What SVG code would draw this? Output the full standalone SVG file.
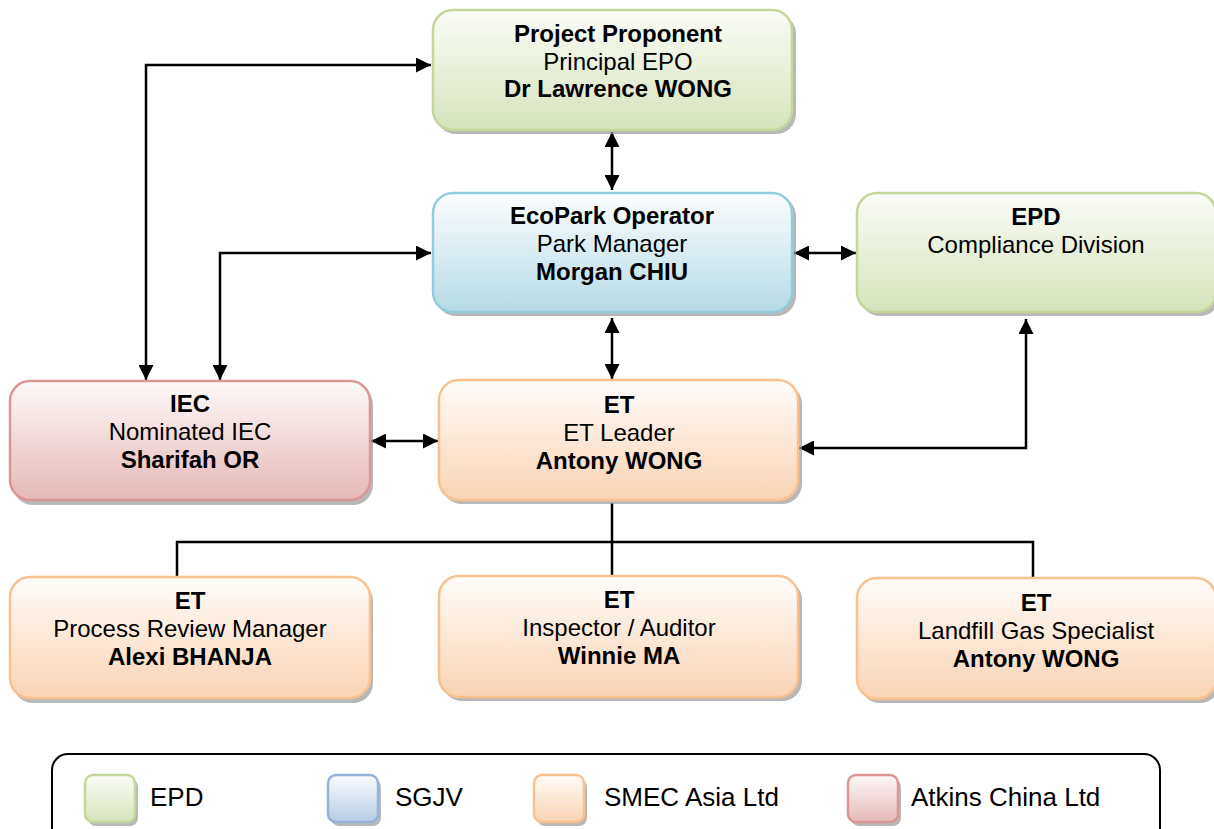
<svg xmlns="http://www.w3.org/2000/svg" width="1214" height="829" viewBox="0 0 1214 829">
<defs>
<linearGradient id="gGreen" x1="0" y1="0" x2="0" y2="1"><stop offset="0" stop-color="#fbfcf8"/><stop offset="1" stop-color="#d6e3bb"/></linearGradient>
<linearGradient id="gCyan" x1="0" y1="0" x2="0" y2="1"><stop offset="0" stop-color="#fcfdfe"/><stop offset="1" stop-color="#b5dbe6"/></linearGradient>
<linearGradient id="gOrange" x1="0" y1="0" x2="0" y2="1"><stop offset="0" stop-color="#fffcfa"/><stop offset="1" stop-color="#fad3b3"/></linearGradient>
<linearGradient id="gRed" x1="0" y1="0" x2="0" y2="1"><stop offset="0" stop-color="#fdf9f9"/><stop offset="1" stop-color="#e5b8b7"/></linearGradient>
<linearGradient id="gBlue" x1="0" y1="0" x2="0" y2="1"><stop offset="0" stop-color="#fafcfe"/><stop offset="1" stop-color="#b8cce4"/></linearGradient>
<marker id="arr" viewBox="0 0 10 10" refX="10" refY="5" markerWidth="6" markerHeight="6" markerUnits="strokeWidth" orient="auto-start-reverse"><path d="M0,0 L10,5 L0,10 z" fill="#000"/></marker>
</defs>
<style>
.t{font-family:"Liberation Sans",Arial,sans-serif;font-size:24px;fill:#000;text-anchor:middle}
.b{font-weight:bold}
.lg{font-family:"Liberation Sans",Arial,sans-serif;font-size:26px;fill:#000}
.sh{fill:#9a9a9a;opacity:0.7}
.green{fill:url(#gGreen);stroke:#c3d69b;stroke-width:2.5}
.cyan{fill:url(#gCyan);stroke:#93cddd;stroke-width:2.5}
.orange{fill:url(#gOrange);stroke:#fac08f;stroke-width:2.5}
.red{fill:url(#gRed);stroke:#d99694;stroke-width:2.5}
.blue{fill:url(#gBlue);stroke:#95b3d7;stroke-width:2.5}
.c{fill:none;stroke:#000;stroke-width:2.5}
</style>
<rect width="1214" height="829" fill="#fff"/>

<g id="connectors">
<line class="c" x1="612" y1="132" x2="612" y2="190" marker-start="url(#arr)" marker-end="url(#arr)"/>
<polyline class="c" points="146,380 146,65 431,65" marker-start="url(#arr)" marker-end="url(#arr)"/>
<polyline class="c" points="220,380 220,253 431,253" marker-start="url(#arr)" marker-end="url(#arr)"/>
<line class="c" x1="794" y1="253" x2="856" y2="253" marker-start="url(#arr)" marker-end="url(#arr)"/>
<line class="c" x1="612" y1="318" x2="612" y2="379" marker-start="url(#arr)" marker-end="url(#arr)"/>
<line class="c" x1="371" y1="441" x2="438" y2="441" marker-start="url(#arr)" marker-end="url(#arr)"/>
<polyline class="c" points="799,448 1026,448 1026,319" marker-start="url(#arr)" marker-end="url(#arr)"/>
<polyline class="c" points="612,503 612,577"/>
<polyline class="c" points="177,577 177,542 1033,542 1033,578"/>
</g>

<g id="n-proponent">
<rect class="sh" x="436" y="14" width="360" height="120" rx="20"/>
<rect class="green" x="433" y="10" width="359" height="120" rx="20"/>
<text class="t b" x="618" y="42">Project Proponent</text>
<text class="t" x="618" y="70">Principal EPO</text>
<text class="t b" x="618" y="97">Dr Lawrence WONG</text>
</g>

<g id="n-ecopark">
<rect class="sh" x="436" y="196" width="360" height="120" rx="20"/>
<rect class="cyan" x="433" y="193" width="359" height="119" rx="20"/>
<text class="t b" x="612" y="224">EcoPark Operator</text>
<text class="t" x="612" y="252">Park Manager</text>
<text class="t b" x="612" y="280">Morgan CHIU</text>
</g>

<g id="n-epd">
<rect class="sh" x="860" y="196" width="360" height="120" rx="20"/>
<rect class="green" x="857" y="193" width="359" height="119" rx="20"/>
<text class="t b" x="1036" y="225">EPD</text>
<text class="t" x="1036" y="253">Compliance Division</text>
</g>

<g id="n-iec">
<rect class="sh" x="13" y="385" width="360" height="120" rx="20"/>
<rect class="red" x="10" y="381" width="360" height="119" rx="20"/>
<text class="t b" x="190" y="412">IEC</text>
<text class="t" x="190" y="440">Nominated IEC</text>
<text class="t b" x="190" y="468">Sharifah OR</text>
</g>

<g id="n-et">
<rect class="sh" x="442" y="384" width="360" height="120" rx="20"/>
<rect class="orange" x="439" y="380" width="359" height="120" rx="20"/>
<text class="t b" x="619" y="413">ET</text>
<text class="t" x="619" y="441">ET Leader</text>
<text class="t b" x="619" y="469">Antony WONG</text>
</g>

<g id="n-prm">
<rect class="sh" x="13" y="581" width="360" height="122" rx="20"/>
<rect class="orange" x="10" y="577" width="360" height="121" rx="20"/>
<text class="t b" x="190" y="609">ET</text>
<text class="t" x="190" y="637">Process Review Manager</text>
<text class="t b" x="190" y="665">Alexi BHANJA</text>
</g>

<g id="n-inspector">
<rect class="sh" x="442" y="580" width="360" height="121" rx="20"/>
<rect class="orange" x="439" y="576" width="359" height="121" rx="20"/>
<text class="t b" x="619" y="608">ET</text>
<text class="t" x="619" y="636">Inspector / Auditor</text>
<text class="t b" x="619" y="664">Winnie MA</text>
</g>

<g id="n-landfill">
<rect class="sh" x="860" y="582" width="360" height="121" rx="20"/>
<rect class="orange" x="857" y="578" width="359" height="121" rx="20"/>
<text class="t b" x="1036" y="611">ET</text>
<text class="t" x="1036" y="639">Landfill Gas Specialist</text>
<text class="t b" x="1036" y="667">Antony WONG</text>
</g>

<g id="legend">
<rect x="52" y="754" width="1108" height="100" rx="16" fill="none" stroke="#000" stroke-width="2"/>
<rect class="sh" x="88" y="779" width="50" height="47" rx="8"/>
<rect class="green" x="85" y="775" width="50" height="47" rx="8"/>
<text class="lg" x="150" y="806">EPD</text>
<rect class="sh" x="331" y="779" width="50" height="47" rx="8"/>
<rect class="blue" x="328" y="775" width="50" height="47" rx="8"/>
<text class="lg" x="395" y="806">SGJV</text>
<rect class="sh" x="537" y="779" width="50" height="47" rx="8"/>
<rect class="orange" x="534" y="775" width="50" height="47" rx="8"/>
<text class="lg" x="604" y="806">SMEC Asia Ltd</text>
<rect class="sh" x="851" y="779" width="50" height="47" rx="8"/>
<rect class="red" x="848" y="775" width="50" height="47" rx="8"/>
<text class="lg" x="911" y="806">Atkins China Ltd</text>
</g>
</svg>
